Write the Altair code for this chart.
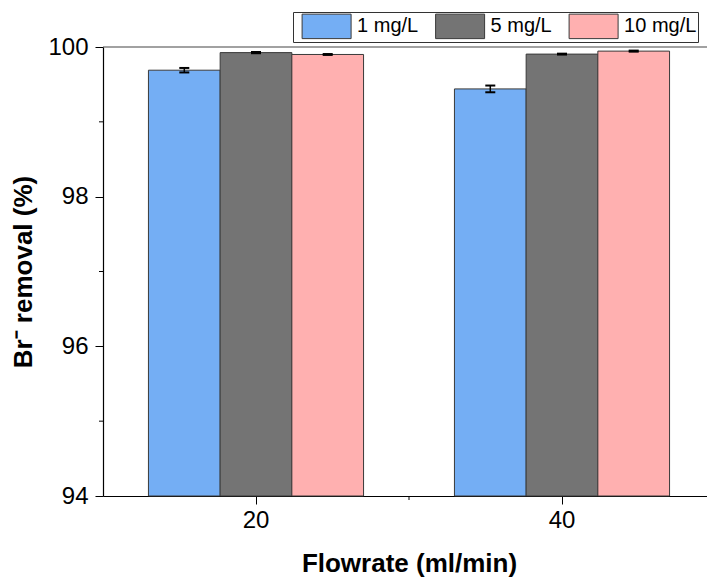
import altair as alt
import pandas as pd

# ---- data ----
flowrates = ["20", "20", "20", "40", "40", "40"]
concentrations = ["1 mg/L", "5 mg/L", "10 mg/L", "1 mg/L", "5 mg/L", "10 mg/L"]
removal = [99.69, 99.925, 99.90, 99.44, 99.905, 99.945]
errors = [0.03, 0.008, 0.006, 0.045, 0.006, 0.007]
conc_order = ["1 mg/L", "5 mg/L", "10 mg/L"]
colors = ["#74AEF4", "#747474", "#FFB0B0"]
y_major = [94, 96, 98, 100]
y_minor = [95, 97, 99]
y_top = [100]
y_base = 94
x_minor = [30]

df = pd.DataFrame({"Flowrate": flowrates, "Conc": concentrations,
                   "Removal": removal, "Err": errors})

FONT = "Liberation Sans"
W, H = 604, 449
XR = 612  # plot continues past the window edge, as in the reference

xscale = alt.Scale(range=[0, XR], paddingInner=0.297, paddingOuter=0.1485)
yscale = alt.Scale(domain=[94, 100], zero=False, nice=False)
xoff = alt.XOffset("Conc:N", sort=conc_order,
                   scale=alt.Scale(paddingInner=0, paddingOuter=0))

base = alt.Chart(df)

bars = base.mark_bar(stroke="#3a3a3a", strokeWidth=1).encode(
    x=alt.X("Flowrate:N", scale=xscale,
            axis=alt.Axis(title="Flowrate (ml/min)", labelAngle=0,
                          labelFontSize=24, labelPadding=4, tickSize=8,
                          titleFontSize=26, titleFontWeight="bold",
                          titlePadding=18)),
    xOffset=xoff,
    y=alt.Y("Removal:Q", scale=yscale,
            axis=alt.Axis(values=y_major, format="d",
                          title="Br⁻ removal (%)",
                          labelFontSize=24, labelPadding=7, tickSize=8,
                          titleFontSize=26, titleFontWeight="bold",
                          titlePadding=11)),
    y2=alt.datum(y_base),
    color=alt.Color("Conc:N", sort=conc_order,
                    scale=alt.Scale(domain=conc_order, range=colors),
                    legend=alt.Legend(
                        orient="none", legendX=190, legendY=-35,
                        direction="horizontal", title=None,
                        symbolType="M-2,-1H2V1H-2Z", symbolSize=600,
                        symbolStrokeColor="#3a3a3a", symbolStrokeWidth=1,
                        symbolOffset=19.6,
                        labelFontSize=20, labelFont=FONT, labelColor="black",
                        labelOffset=17.5, labelLimit=200, columnPadding=8.5,
                        padding=1, strokeColor="#333333", fillColor="white")),
)

err = base.transform_calculate(
    lo="datum.Removal - datum.Err", hi="datum.Removal + datum.Err")

err_line = err.mark_rule(color="black", strokeWidth=1.5).encode(
    x=alt.X("Flowrate:N", scale=xscale), xOffset=xoff,
    y=alt.Y("lo:Q", scale=yscale), y2="hi:Q")
cap_lo = err.mark_tick(orient="horizontal", size=10, thickness=2,
                       color="black", opacity=1).encode(
    x=alt.X("Flowrate:N", scale=xscale), xOffset=xoff,
    y=alt.Y("lo:Q", scale=yscale))
cap_hi = err.mark_tick(orient="horizontal", size=10, thickness=2,
                       color="black", opacity=1).encode(
    x=alt.X("Flowrate:N", scale=xscale), xOffset=xoff,
    y=alt.Y("hi:Q", scale=yscale))

yminor = alt.Chart(pd.DataFrame({"Removal": y_minor})).mark_rule(
    color="black", strokeWidth=1).encode(
    y=alt.Y("Removal:Q", scale=yscale), x=alt.value(0), x2=alt.value(-4))

topline = alt.Chart(pd.DataFrame({"Removal": y_top})).mark_rule(
    color="#444444", strokeWidth=1.2).encode(
    y=alt.Y("Removal:Q", scale=yscale), x=alt.value(0), x2=alt.value(XR))

main = alt.layer(bars, err_line, cap_lo, cap_hi, yminor, topline)

xminor = alt.Chart(pd.DataFrame({"f": x_minor})).mark_rule(
    color="black", strokeWidth=1).encode(
    x=alt.X("f:Q", scale=alt.Scale(domain=[10, 50], range=[0, XR],
                                   nice=False, zero=False), axis=None),
    y=alt.value(H), y2=alt.value(H + 4))

chart = alt.layer(main, xminor).resolve_scale(x="independent").properties(
    width=W, height=H, background="white",
    autosize=alt.AutoSizeParams(type="none"),
    padding={"left": 103, "top": 47, "right": 0, "bottom": 85},
).configure_view(stroke=None).configure_axis(
    labelFont=FONT, titleFont=FONT, labelColor="black", titleColor="black",
    domainColor="black", tickColor="black", domainWidth=1.2, tickWidth=1,
    grid=False,
)

chart.save("out.html", embed_options={"renderer": "svg", "actions": False})
